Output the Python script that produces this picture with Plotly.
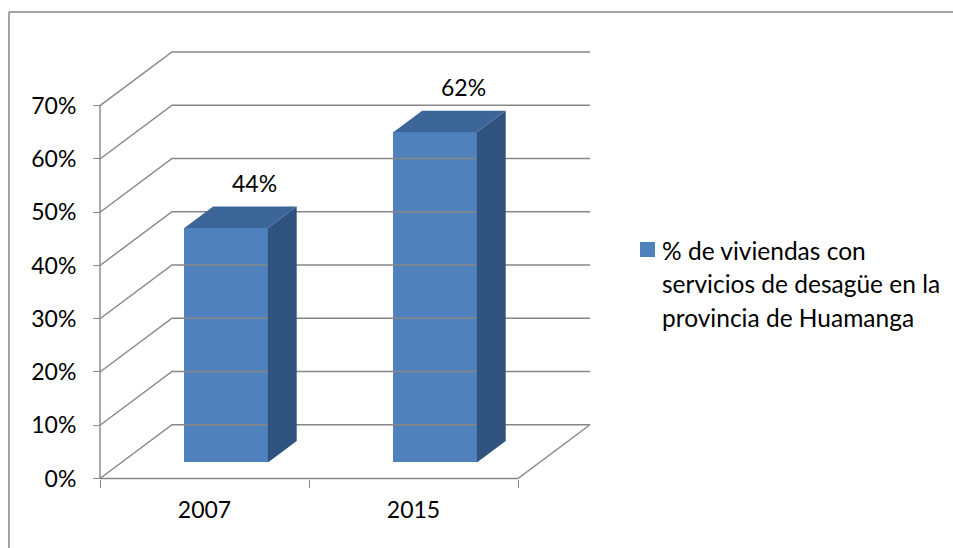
import plotly.graph_objects as go

# ---- data ----
categories = ["2007", "2015"]
values = [44, 62]                      # % de viviendas con servicios de desagüe
value_labels = ["44%", "62%"]
grid_values = [0, 10, 20, 30, 40, 50, 60, 70]
legend_lines = ["% de viviendas con", "servicios de desagüe en la", "provincia de Huamanga"]

# ---- layout geometry ----
W, H = 953, 548
L, R, T, B = 95, 600, 45, 490          # plot area in pixels
PX_CAT = 209.0                          # pixels per category
PX_PCT = 5.326                          # pixels per percent
X0_PX, Y0_PX = 100, 478.5               # pixel of data origin
DX = 72 / PX_CAT                        # depth offset (x units)
DY = 53.7 / PX_PCT                      # depth offset (y units)
BAR_D0, BAR_D1 = 0.3, 0.7               # bar depth fraction
BAR_W = 0.4

xr = [(L - X0_PX) / PX_CAT, (R - X0_PX) / PX_CAT]
yr = [(Y0_PX - B) / PX_PCT, (Y0_PX - T) / PX_PCT]

def paper_x(px):
    return (px - L) / (R - L)

def paper_y(py):
    return (B - py) / (B - T)

GRID = "#868686"
FRONT = "#4F81BD"
TOP = "#3C6698"
SIDE = "#30527F"
FONT = "Lato, Carlito, Calibri, sans-serif"

fig = go.Figure()

# walls / gridlines
gx, gy = [], []
for g in grid_values:
    gx += [0, DX, len(categories) + DX, None]
    gy += [g, g + DY, g + DY, None]
# floor
gx += [0, len(categories), len(categories) + DX, None]
gy += [0, 0, DY, None]
# front vertical axis
gx += [0, 0, None]
gy += [0, max(grid_values), None]
fig.add_trace(go.Scatter(x=gx, y=gy, mode="lines", line=dict(color=GRID, width=1.4),
                         hoverinfo="skip", showlegend=False))

# bars
base = BAR_D0 * DY
depth = BAR_D1 - BAR_D0
for i, v in enumerate(values):
    x0 = i + 0.5 - BAR_W / 2 + BAR_D0 * DX
    x1 = x0 + BAR_W
    b = base
    t = base + v
    # side face
    fig.add_trace(go.Scatter(
        x=[x1, x1 + depth * DX, x1 + depth * DX, x1, x1],
        y=[b, b + depth * DY, t + depth * DY, t, b],
        mode="lines", fill="toself", fillcolor=SIDE, line=dict(width=0, color=SIDE),
        hoverinfo="skip", showlegend=False))
    # top face
    fig.add_trace(go.Scatter(
        x=[x0, x1, x1 + depth * DX, x0 + depth * DX, x0],
        y=[t, t, t + depth * DY, t + depth * DY, t],
        mode="lines", fill="toself", fillcolor=TOP, line=dict(width=0, color=TOP),
        hoverinfo="skip", showlegend=False))

# front faces as bars
fig.add_trace(go.Bar(
    x=[i + 0.5 + BAR_D0 * DX for i in range(len(values))],
    y=values, base=base, width=BAR_W,
    marker=dict(color=FRONT, line=dict(width=0)),
    name=legend_lines[0], showlegend=False, hoverinfo="skip"))

# value labels
for i, (v, lab) in enumerate(zip(values, value_labels)):
    fig.add_annotation(x=i + 0.5 + BAR_D1 * DX, y=v + BAR_D1 * DY, text=lab,
                       showarrow=False, xanchor="center", yanchor="bottom", yshift=8,
                       font=dict(family=FONT, size=23, color="black"))

# legend (drawn manually)
fig.add_shape(type="rect", xref="paper", yref="paper",
              x0=paper_x(640), x1=paper_x(655), y0=paper_y(257), y1=paper_y(242),
              fillcolor=FRONT, line=dict(width=0))
for k, line in enumerate(legend_lines):
    fig.add_annotation(xref="paper", yref="paper", x=paper_x(660), y=paper_y(250 + 33.5 * k),
                       text=line, showarrow=False, xanchor="left", yanchor="middle",
                       font=dict(family=FONT, size=24.5, color="black"))

# chart border (top and left edges visible)
fig.add_shape(type="line", xref="paper", yref="paper",
              x0=paper_x(9), x1=paper_x(970), y0=paper_y(12), y1=paper_y(12),
              line=dict(color=GRID, width=1.5))
fig.add_shape(type="line", xref="paper", yref="paper",
              x0=paper_x(9), x1=paper_x(9), y0=paper_y(12), y1=paper_y(570),
              line=dict(color=GRID, width=1.5))

fig.update_layout(
    width=W, height=H,
    margin=dict(l=L, r=W - R, t=T, b=H - B, autoexpand=False),
    paper_bgcolor="white", plot_bgcolor="white",
    font=dict(family=FONT, size=23, color="black"),
    bargap=0,
    xaxis=dict(range=xr, showgrid=False, zeroline=False, showline=False,
               tickmode="array", tickvals=[i + 0.5 for i in range(len(categories))],
               ticktext=categories, ticks="", ticklabelstandoff=15,
               minor=dict(tickmode="array", tickvals=list(range(len(categories) + 1)),
                          ticks="outside", ticklen=8, tickcolor=GRID, tickwidth=1.4,
                          showgrid=False),
               anchor="free", position=paper_y(Y0_PX), fixedrange=True),
    yaxis=dict(range=yr, showgrid=False, zeroline=False, showline=False,
               tickmode="array", tickvals=grid_values,
               ticktext=[f"{g}%" for g in grid_values],
               ticks="outside", ticklen=7, tickcolor=GRID, tickwidth=1.4,
               ticklabelstandoff=12,
               anchor="free", position=paper_x(X0_PX), fixedrange=True),
)

fig.write_html("out.html", config={"displayModeBar": False},
               post_script="document.body.style.margin='0';document.body.style.overflow='hidden';")
